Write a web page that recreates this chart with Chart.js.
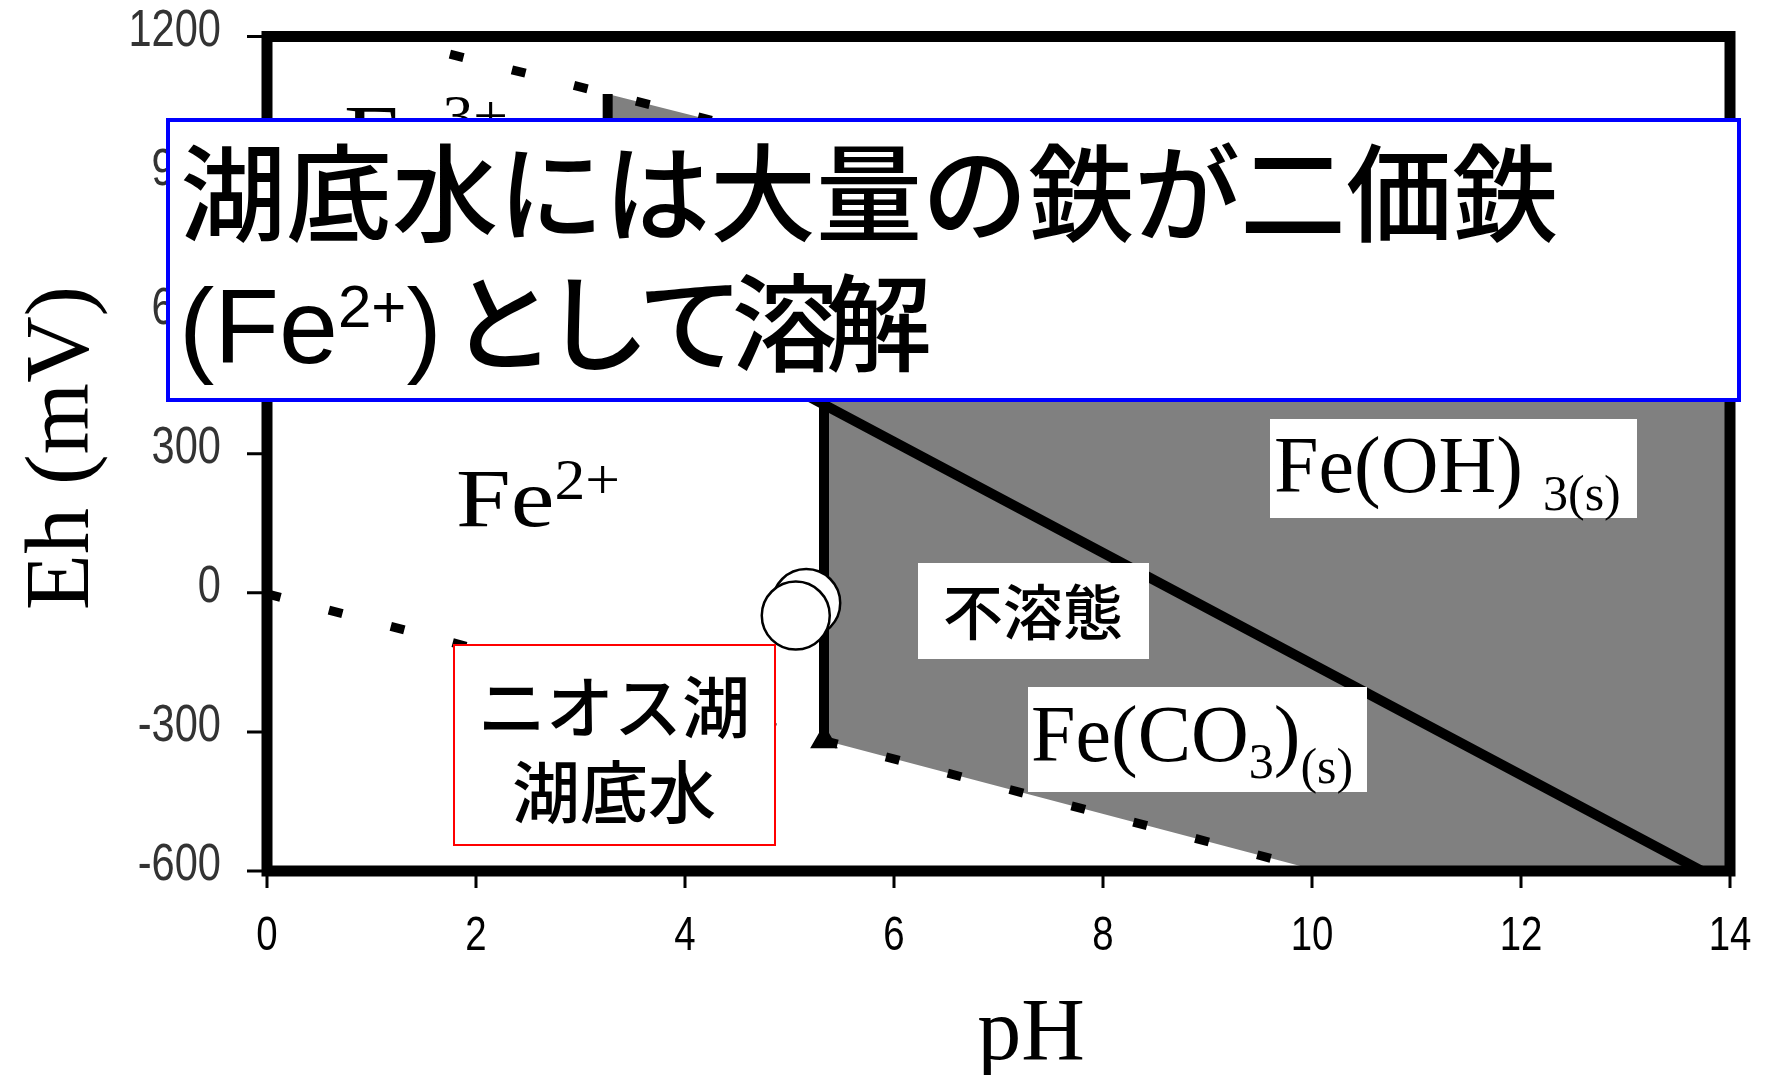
<!DOCTYPE html>
<html>
<head>
<meta charset="utf-8">
<script src="https://cdn.jsdelivr.net/npm/chart.js@4.4.0/dist/chart.umd.min.js"></script>
<style>
  html, body { margin: 0; padding: 0; background: #fff; }
  #wrap { width: 1767px; height: 1075px; position: relative; }
</style>
</head>
<body>
<div id="wrap"><canvas id="eh-ph"></canvas></div>
<script>
// axis ticks
const phTicks = [0, 2, 4, 6, 8, 10, 12, 14];
const ehTicks = [-600, -300, 0, 300, 600, 900, 1200];

// stability field boundaries (pH, Eh in mV)
const solidFieldPH = [3.26, 14, 14, 10.07, 5.33, 5.33, 3.26];
const solidFieldEh = [1076, 464, -600, -600, -318, 406, 654];
const waterUpperPH = [1.75, 14];
const waterUpperEh = [1162, 464];
const waterLowerPH = [0, 10.2];
const waterLowerEh = [-2, -608];
const hydroxideEdgePH = [3.26, 3.26, 13.73];
const hydroxideEdgeEh = [1076, 654, -600];
const carbonateEdgePH = [5.33, 5.33];
const carbonateEdgeEh = [406, -318];

// Lake Nyos bottom water samples
const nyosPH = [5.16, 5.06];
const nyosEh = [-22, -49];

const pts = (xs, ys) => xs.map((x, i) => ({ x: x, y: ys[i] }));

const SERIF = '"Liberation Serif", "Times New Roman", serif';
const SANS = '"Liberation Sans", Arial, sans-serif';
const JP = '"Noto Sans CJK JP", "Noto Sans", sans-serif';

// draws text pieces one after another: [text, font, dy, sx]
function textRuns(ctx, x, y, parts) {
  let cx = x;
  for (const [t, font, dy, sx = 1] of parts) {
    ctx.font = font;
    ctx.save();
    ctx.translate(cx, y + dy);
    ctx.scale(sx, 1);
    ctx.fillText(t, 0, 0);
    ctx.restore();
    cx += ctx.measureText(t).width * sx;
  }
  return cx;
}

function spacedText(ctx, text, x, y, spacing) {
  let cx = x;
  for (const ch of text) {
    ctx.fillText(ch, cx, y);
    cx += ctx.measureText(ch).width + spacing;
  }
}

function narrowText(ctx, text, x, y, align, font, sx) {
  ctx.save();
  ctx.translate(x, y);
  ctx.scale(sx, 1);
  ctx.font = font;
  ctx.textAlign = align;
  ctx.textBaseline = "middle";
  ctx.fillText(text, 0, 0);
  ctx.restore();
}

function whiteBox(ctx, x, y, w, h, stroke, lw) {
  ctx.fillStyle = "#fff";
  ctx.fillRect(x, y, w, h);
  if (stroke) {
    ctx.strokeStyle = stroke;
    ctx.lineWidth = lw;
    ctx.strokeRect(x, y, w, h);
  }
}

// frame, ticks, tick labels and axis titles
const axesPlugin = {
  id: "axesFrame",
  afterDatasetsDraw(chart) {
    const { ctx, chartArea: a, scales } = chart;
    const xs = scales.x, ys = scales.y;
    ctx.save();
    ctx.strokeStyle = "#000";
    ctx.lineWidth = 3;
    ctx.beginPath();
    for (const v of phTicks) {
      const px = xs.getPixelForValue(v);
      ctx.moveTo(px, a.bottom);
      ctx.lineTo(px, a.bottom + 17);
    }
    for (const v of ehTicks) {
      const py = ys.getPixelForValue(v);
      ctx.moveTo(a.left, py);
      ctx.lineTo(a.left - 20, py);
    }
    ctx.stroke();

    ctx.lineWidth = 11;
    ctx.strokeRect(a.left, a.top, a.right - a.left, a.bottom - a.top);

    ctx.fillStyle = "#000";
    for (const v of phTicks) {
      narrowText(ctx, String(v), xs.getPixelForValue(v), 937, "center", "48px " + SANS, 0.8);
    }
    ctx.fillStyle = "#333";
    for (const v of ehTicks) {
      narrowText(ctx, String(v), 221, ys.getPixelForValue(v) - 5, "right", "52px " + SANS, 0.8);
    }

    ctx.fillStyle = "#000";
    ctx.font = "88px " + SERIF;
    ctx.textAlign = "center";
    ctx.textBaseline = "alphabetic";
    ctx.fillText("pH", 1031, 1059);

    ctx.save();
    ctx.translate(88, 448);
    ctx.rotate(-Math.PI / 2);
    ctx.font = "92px " + SERIF;
    ctx.fillText("Eh (mV)", 0, 0);
    ctx.restore();
    ctx.restore();
  }
};

// field labels and captions
const labelPlugin = {
  id: "fieldLabels",
  afterDraw(chart) {
    const ctx = chart.ctx;
    ctx.save();
    ctx.textAlign = "left";
    ctx.textBaseline = "alphabetic";
    ctx.fillStyle = "#000";

    textRuns(ctx, 344, 162, [["Fe", "82px " + SERIF, 0, 1.2], ["3+", "56px " + SERIF, -27, 1.1]]);
    textRuns(ctx, 456, 526, [["Fe", "82px " + SERIF, 0, 1.2], ["2+", "56px " + SERIF, -27, 1.1]]);

    whiteBox(ctx, 1270, 419, 367, 99);
    ctx.fillStyle = "#000";
    textRuns(ctx, 1274, 492, [["Fe(OH)", "80px " + SERIF, 0]]);
    textRuns(ctx, 1543, 510, [["3(s)", "50px " + SERIF, 0]]);

    whiteBox(ctx, 918, 563, 231, 96);
    ctx.fillStyle = "#000";
    ctx.textAlign = "center";
    ctx.textBaseline = "middle";
    ctx.font = "500 60px " + JP;
    ctx.fillText("不溶態", 1033, 612);

    whiteBox(ctx, 1028, 687, 339, 105);
    ctx.fillStyle = "#000";
    ctx.textAlign = "left";
    ctx.textBaseline = "alphabetic";
    textRuns(ctx, 1031, 761, [
      ["Fe(CO", "80px " + SERIF, 0],
      ["3", "50px " + SERIF, 17],
      [")", "80px " + SERIF, 0],
      ["(s)", "50px " + SERIF, 22]
    ]);

    whiteBox(ctx, 454, 645, 321, 200, "#ff0000", 2);
    ctx.fillStyle = "#000";
    ctx.textAlign = "center";
    ctx.textBaseline = "middle";
    ctx.font = "500 68px " + JP;
    ctx.fillText("ニオス湖", 614, 707);
    ctx.fillText("湖底水", 614, 792);

    whiteBox(ctx, 168, 120, 1571, 280, "#0000ff", 4);
    ctx.fillStyle = "#000";
    ctx.textAlign = "left";
    ctx.font = "500 106px " + JP;
    ctx.fillText("湖底水には大量の鉄が二価鉄", 180, 193);
    ctx.textBaseline = "alphabetic";
    const cx = textRuns(ctx, 179, 363, [
      ["(Fe", "106px " + SANS, 0],
      ["2+", "60px " + SANS, -36],
      [")", "106px " + SANS, 0]
    ]);
    ctx.font = "500 106px " + JP;
    spacedText(ctx, "として溶解", cx + 8, 363, -12);
    ctx.restore();
  }
};

const ctx = document.getElementById("eh-ph").getContext("2d");
new Chart(ctx, {
  type: "scatter",
  data: {
    datasets: [
      {
        label: "Nyos",
        data: pts(nyosPH, nyosEh),
        pointRadius: 34,
        pointBackgroundColor: "#fff",
        pointBorderColor: "#000",
        pointBorderWidth: 2.5,
        order: 0
      },
      {
        label: "FeCO3 edge",
        data: pts(carbonateEdgePH, carbonateEdgeEh),
        showLine: true,
        borderColor: "#000",
        borderWidth: 10,
        pointRadius: [0, 6],
        pointStyle: "triangle",
        pointBackgroundColor: "#000",
        pointBorderColor: "#000",
        order: 1
      },
      {
        label: "Fe(OH)3 edge",
        data: pts(hydroxideEdgePH, hydroxideEdgeEh),
        showLine: true,
        borderColor: "#000",
        borderWidth: 10,
        pointRadius: 0,
        order: 1
      },
      {
        label: "O2/H2O",
        data: pts(waterUpperPH, waterUpperEh),
        showLine: true,
        borderColor: "#000",
        borderWidth: 9,
        borderDash: [14, 50],
        pointRadius: 0,
        order: 2
      },
      {
        label: "H2O/H2",
        data: pts(waterLowerPH, waterLowerEh),
        showLine: true,
        borderColor: "#000",
        borderWidth: 9,
        borderDash: [14, 50],
        pointRadius: 0,
        order: 2
      },
      {
        label: "solid",
        data: pts(solidFieldPH, solidFieldEh),
        showLine: true,
        borderWidth: 0,
        borderColor: "rgba(0,0,0,0)",
        backgroundColor: "#808080",
        fill: "shape",
        pointRadius: 0,
        order: 5
      }
    ]
  },
  options: {
    responsive: true,
    maintainAspectRatio: false,
    animation: false,
    layout: { padding: { left: 267, top: 34, right: 37, bottom: 204 } },
    plugins: {
      legend: { display: false },
      tooltip: { enabled: false }
    },
    scales: {
      x: { type: "linear", min: 0, max: 14, display: false },
      y: { type: "linear", min: -600, max: 1200, display: false }
    }
  },
  plugins: [axesPlugin, labelPlugin]
});
</script>
</body>
</html>
